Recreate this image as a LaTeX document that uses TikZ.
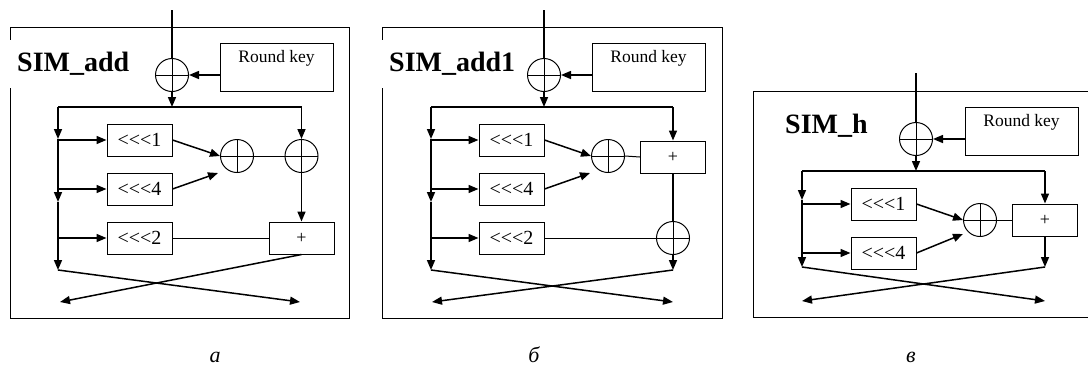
\documentclass[tikz,border=0pt]{standalone}
\usepackage{fontspec}
\setmainfont{Liberation Serif}
\usetikzlibrary{arrows.meta,positioning}

\begin{document}
\begin{tikzpicture}[x=1pt, y=-1pt,
        frm/.style={draw, line width=1pt},
        ttl/.style={fill=white, anchor=west, inner xsep=8pt, minimum height=48pt,
                    font=\fontsize{28}{30}\selectfont\bfseries},
        keybox/.style={draw, line width=1pt, minimum width=113pt, inner xsep=0pt,
                    inner ysep=7pt, text height=12pt, text depth=22pt,
                    font=\fontsize{17.5}{19}\selectfont},
        blk/.style={draw, line width=1pt, minimum width=65pt, minimum height=32pt,
                    inner sep=0pt, font=\fontsize{20}{22}\selectfont},
        addbox/.style={blk, font=\fontsize{18}{20}\selectfont},
        xr/.style={draw, circle, line width=1pt, minimum size=33pt, inner sep=0pt,
                    path picture={\draw[line width=1pt]
                        (path picture bounding box.north) -- (path picture bounding box.south)
                        (path picture bounding box.west) -- (path picture bounding box.east);}},
        ln/.style={line width=1.5pt},
        thn/.style={line width=1pt},
        arr/.style={-{Triangle[length=10pt,width=8pt]}, line width=1.5pt},
        captxt/.style={anchor=base, font=\fontsize{22}{24}\selectfont\itshape},
    ]
    \useasboundingbox (0,0) rectangle (1088,365);

    \begin{scope}[name prefix=a-]
        \draw[frm] (10,27) rectangle (349,318);
        \node[ttl] (name) at (9,64) {SIM\_add};
        \coordinate (in) at (172,10);
        \node[xr] (k) at (172,75) {};
        \node[keybox] (key) at (276.5,67) {Round key};
        \coordinate (tl) at (58,107);
        \coordinate (tm) at (172,107);
        \coordinate (tr) at (301.5,107);
        \node[blk] (r1) at (139.5,140) {<{}<{}<1};
        \node[blk, below=16pt of r1] (r4) {<{}<{}<4};
        \node[blk, below=16pt of r4] (r2) {<{}<{}<2};
        \node[xr] (x2) at (237,156) {};
        \node[xr] (x3) at (301.5,156) {};
        \node[addbox] (add) at (301.5,238) {+};
        \coordinate (v1) at (58,139);
        \coordinate (v2) at (58,202);
        \coordinate (v3) at (58,270);
        \coordinate (e4) at (218,173);
        \coordinate (eR) at (300,302);
        \coordinate (eL) at (60,302);

        \draw[ln] (in) -- (k.north);
        \draw[arr] (k.south) -- (tm);
        \draw[arr] (k.east -| key.west) -- (k.east);
        \draw[ln] (tl) -- (tr);
        \draw[arr] (tl) -- (v1);
        \draw[arr] (v1) -- (v2);
        \draw[arr] (v2) -- (v3);
        \draw[arr] (r1.west -| tl) -- (r1.west);
        \draw[arr] (r4.west -| tl) -- (r4.west);
        \draw[arr] (r2.west -| tl) -- (r2.west);
        \draw[arr] (r1.east) -- (x2.west);
        \draw[arr] (r4.east) -- (e4);
        \draw[thn] (x2.east) -- (x3.west);
        \draw[arr] (tr) -- (x3.north);
        \draw[arr] (x3.south) -- (add.north);
        \draw[thn] (r2.east) -- (add.west);
        \draw[arr] (v3) -- (eR);
        \draw[arr] (add.south) -- (eL);
    \end{scope}

    \begin{scope}[shift={(372,0)}, name prefix=b-]
        \draw[frm] (10,27) rectangle (350,318);
        \node[ttl] (name) at (9,64) {SIM\_add1};
        \coordinate (in) at (172,10);
        \node[xr] (k) at (172,75) {};
        \node[keybox] (key) at (276.5,67) {Round key};
        \coordinate (tl) at (59,107);
        \coordinate (tm) at (172,107);
        \coordinate (tr) at (301,107);
        \node[blk] (r1) at (139.5,140) {<{}<{}<1};
        \node[blk, below=16pt of r1] (r4) {<{}<{}<4};
        \node[blk, below=16pt of r4] (r2) {<{}<{}<2};
        \node[xr] (x2) at (236,156) {};
        \node[addbox] (add) at (301,157) {+};
        \node[xr] (x3) at (301,238) {};
        \coordinate (v1) at (59,139);
        \coordinate (v2) at (59,202);
        \coordinate (v3) at (59,270);
        \coordinate (v4) at (301,270);
        \coordinate (e4) at (218,173);
        \coordinate (eR) at (301,302);
        \coordinate (eL) at (60,302);

        \draw[ln] (in) -- (k.north);
        \draw[arr] (k.south) -- (tm);
        \draw[arr] (k.east -| key.west) -- (k.east);
        \draw[ln] (tl) -- (tr);
        \draw[arr] (tl) -- (v1);
        \draw[arr] (v1) -- (v2);
        \draw[arr] (v2) -- (v3);
        \draw[arr] (r1.west -| tl) -- (r1.west);
        \draw[arr] (r4.west -| tl) -- (r4.west);
        \draw[arr] (r2.west -| tl) -- (r2.west);
        \draw[arr] (r1.east) -- (x2.west);
        \draw[arr] (r4.east) -- (e4);
        \draw[thn] (x2.east) -- (add.west);
        \draw[arr] (tr) -- (add.north);
        \draw[ln] (add.south) -- (x3.north);
        \draw[arr] (x3.south) -- (v4);
        \draw[thn] (r2.east) -- (x3.west);
        \draw[arr] (v3) -- (eR);
        \draw[arr] (v4) -- (eL);
    \end{scope}

    \begin{scope}[shift={(744,64)}, name prefix=c-]
        \draw[frm] (344,27) -- (9,27) -- (9,253) -- (344,253);
        \node[ttl, fill=none] (name) at (33,62) {SIM\_h};
        \coordinate (in) at (172,9);
        \node[xr] (k) at (172,75) {};
        \node[keybox] (key) at (277.5,67.5) {Round key};
        \coordinate (tl) at (58,107);
        \coordinate (tm) at (172,107);
        \coordinate (tr) at (301,107);
        \node[blk] (r1) at (139.5,140) {<{}<{}<1};
        \node[blk, below=16pt of r1] (r4) {<{}<{}<4};
        \node[xr] (x2) at (236,156) {};
        \node[addbox] (add) at (301,156) {+};
        \coordinate (v1) at (58,136);
        \coordinate (v2) at (58,203);
        \coordinate (v3) at (301,203);
        \coordinate (e4) at (219,170);
        \coordinate (eR) at (301,237);
        \coordinate (eL) at (58,237);

        \draw[ln] (in) -- (k.north);
        \draw[arr] (k.south) -- (tm);
        \draw[arr] (k.east -| key.west) -- (k.east);
        \draw[ln] (tl) -- (tr);
        \draw[arr] (tl) -- (v1);
        \draw[arr] (v1) -- (v2);
        \draw[arr] (r1.west -| tl) -- (r1.west);
        \draw[arr] (r4.west -| tl) -- (r4.west);
        \draw[arr] (r1.east) -- (x2.west);
        \draw[arr] (r4.east) -- (e4);
        \draw[thn] (x2.east) -- (add.west);
        \draw[arr] (tr) -- (add.north);
        \draw[arr] (add.south) -- (v3);
        \draw[arr] (v2) -- (eR);
        \draw[arr] (v3) -- (eL);
    \end{scope}

    \node[captxt] (ca) at (215,362) {а};
    \node[captxt] (cb) at (534,362) {б};
    \node[captxt] (cc) at (911,362) {в};
\end{tikzpicture}
\end{document}
